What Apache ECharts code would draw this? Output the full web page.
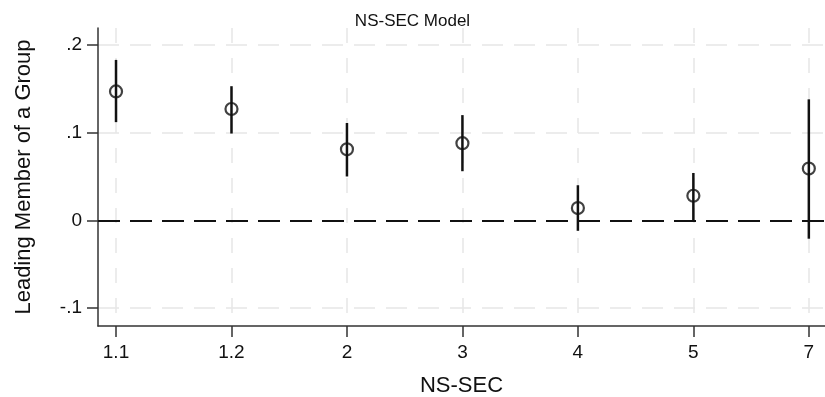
<!DOCTYPE html>
<html>
<head>
<meta charset="utf-8">
<script src="https://cdn.jsdelivr.net/npm/echarts@6/dist/echarts.min.js"></script>
<style>
  html, body { margin: 0; padding: 0; background: #fff; }
  #chart { width: 825px; height: 397px; }
</style>
</head>
<body>
<div id="chart"></div>
<script>
// NS-SEC categories and point estimates with confidence intervals
const categories = ['1.1', '1.2', '2', '3', '4', '5', '7'];
const estimates = [0.147, 0.127, 0.081, 0.088, 0.014, 0.028, 0.059];
const lower = [0.112, 0.099, 0.050, 0.056, -0.012, 0.000, -0.021];
const upper = [0.183, 0.153, 0.111, 0.120, 0.040, 0.054, 0.138];
const yTicks = [-0.1, 0, 0.1, 0.2];
const xTicks = categories.map((c, i) => i);

const font = 'Liberation Sans, Arial, Helvetica, sans-serif';

const chart = echarts.init(document.getElementById('chart'));

chart.setOption({
  animation: false,
  backgroundColor: '#fff',
  title: {
    text: 'NS-SEC Model',
    left: 'center',
    top: 8,
    textStyle: { fontFamily: font, fontSize: 17, fontWeight: 'normal', color: '#111' }
  },
  grid: { left: 98, right: 0, top: 28, bottom: 71, outerBoundsMode: 'none' },
  xAxis: {
    type: 'value',
    min: -0.156,
    max: 6.14,
    name: 'NS-SEC',
    nameLocation: 'middle',
    nameGap: 49,
    nameTextStyle: { fontFamily: font, fontSize: 22, color: '#111' },
    axisLine: { show: true, onZero: false, lineStyle: { color: '#333', width: 1.5 } },
    axisTick: { show: true, length: 11, customValues: xTicks, lineStyle: { color: '#333', width: 1.5 } },
    axisLabel: {
      customValues: xTicks,
      margin: 17,
      fontFamily: font, fontSize: 19, color: '#111',
      formatter: v => categories[Math.round(v)]
    },
    splitLine: { show: true, lineStyle: { color: '#e6e6e6', width: 1.5, type: [15, 15] } }
  },
  yAxis: {
    type: 'value',
    min: -0.1206,
    max: 0.2194,
    name: 'Leading Member of a Group',
    nameLocation: 'middle',
    nameGap: 63,
    nameTextStyle: { fontFamily: font, fontSize: 22, color: '#111' },
    axisLine: { show: true, onZero: false, lineStyle: { color: '#333', width: 1.5 } },
    axisTick: { show: true, length: 11, customValues: yTicks, lineStyle: { color: '#333', width: 1.5 } },
    axisLabel: {
      customValues: yTicks,
      margin: 16,
      fontFamily: font, fontSize: 19, color: '#111',
      formatter: v => {
        if (Math.abs(v) < 1e-9) return '0';
        return String(+v.toFixed(1)).replace('0.', '.');
      }
    },
    splitLine: { show: true, lineStyle: { color: '#e6e6e6', width: 1.5, type: [21, 11] } }
  },
  series: [
    {
      // confidence intervals
      type: 'custom',
      data: categories.map((c, i) => [i, lower[i], upper[i]]),
      renderItem: (params, api) => {
        const lo = api.coord([api.value(0), api.value(1)]);
        const hi = api.coord([api.value(0), api.value(2)]);
        return {
          type: 'line',
          shape: { x1: lo[0], y1: lo[1], x2: hi[0], y2: hi[1] },
          style: { stroke: '#111', lineWidth: 2.5 }
        };
      },
      encode: { x: 0, y: [1, 2] },
      z: 3,
      markLine: {
        silent: true,
        symbol: 'none',
        label: { show: false },
        lineStyle: { color: '#111', width: 2, type: [22, 10] },
        data: [{ yAxis: 0 }]
      }
    },
    {
      type: 'scatter',
      data: categories.map((c, i) => [i, estimates[i]]),
      symbol: 'circle',
      symbolSize: 12,
      itemStyle: { color: 'rgba(0,0,0,0)', borderColor: '#111', borderWidth: 2.2 },
      z: 4
    }
  ]
});
</script>
</body>
</html>
